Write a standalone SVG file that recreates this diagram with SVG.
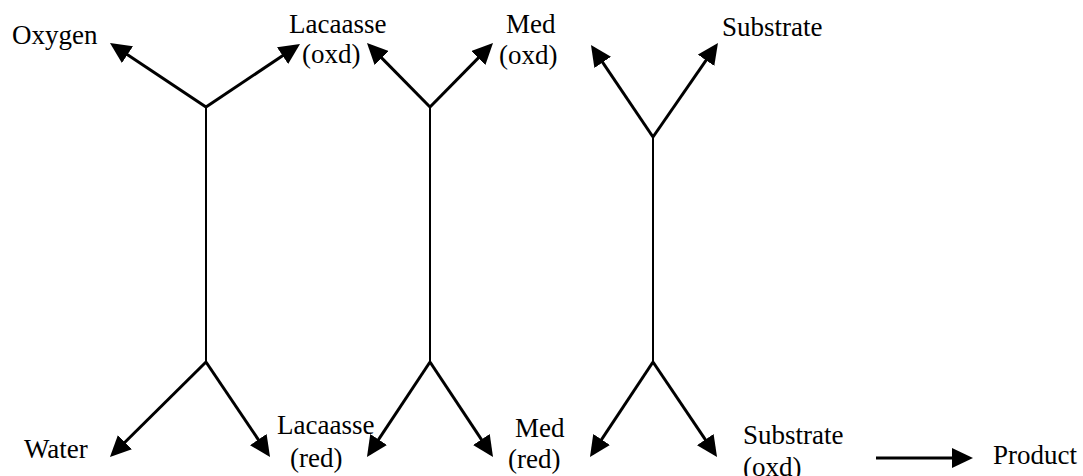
<svg xmlns="http://www.w3.org/2000/svg" width="1083" height="476" viewBox="0 0 1083 476">
<defs>
<marker id="ah" markerUnits="userSpaceOnUse" markerWidth="22" markerHeight="20" refX="17" refY="10" orient="auto" viewBox="0 0 22 20">
<path d="M0,0 L21,10 L0,20 z" fill="#000"/>
</marker>
<style>
.t{font-family:"Liberation Serif","Times New Roman",serif;font-size:27px;fill:#000}
.a{stroke:#000;stroke-width:3;fill:none;marker-end:url(#ah)}
.v{stroke:#000;stroke-width:2;fill:none}
</style>
</defs>
<rect width="1083" height="476" fill="#fff"/>
<g id="connectors">
<line class="v" x1="206" y1="107" x2="206" y2="362"/>
<line class="v" x1="430" y1="107" x2="430" y2="362"/>
<line class="v" x1="653" y1="137" x2="653" y2="362"/>
<line class="a" x1="206" y1="107" x2="113.3" y2="45.2"/>
<line class="a" x1="206" y1="107" x2="296.7" y2="46.2"/>
<line class="a" x1="206" y1="362" x2="112.8" y2="454.2"/>
<line class="a" x1="206" y1="362" x2="267.8" y2="453.7"/>
<line class="a" x1="430" y1="107" x2="369.8" y2="45.9"/>
<line class="a" x1="430" y1="107" x2="490.2" y2="45.9"/>
<line class="a" x1="430" y1="362" x2="369.2" y2="453.7"/>
<line class="a" x1="430" y1="362" x2="490.8" y2="453.7"/>
<line class="a" x1="653" y1="137" x2="593.2" y2="48.3"/>
<line class="a" x1="653" y1="137" x2="715.7" y2="46.3"/>
<line class="a" x1="653" y1="362" x2="592.2" y2="453.7"/>
<line class="a" x1="653" y1="362" x2="714.8" y2="453.7"/>
<line class="a" x1="876" y1="458" x2="969" y2="458"/>
</g>
<g id="oxygen"><text class="t" x="12" y="44">Oxygen</text></g>
<g id="lacaasse-oxd"><text class="t" x="289" y="33">Lacaasse</text><text class="t" x="302" y="63">(oxd)</text></g>
<g id="med-oxd"><text class="t" x="506" y="33">Med</text><text class="t" x="499" y="64">(oxd)</text></g>
<g id="substrate"><text class="t" x="722" y="36">Substrate</text></g>
<g id="water"><text class="t" x="24" y="458">Water</text></g>
<g id="lacaasse-red"><text class="t" x="277" y="434">Lacaasse</text><text class="t" x="290" y="467">(red)</text></g>
<g id="med-red"><text class="t" x="515" y="437">Med</text><text class="t" x="508" y="468">(red)</text></g>
<g id="substrate-oxd"><text class="t" x="743" y="444">Substrate</text><text class="t" x="743" y="476">(oxd)</text></g>
<g id="product"><text class="t" x="993" y="464">Product</text></g>
</svg>
